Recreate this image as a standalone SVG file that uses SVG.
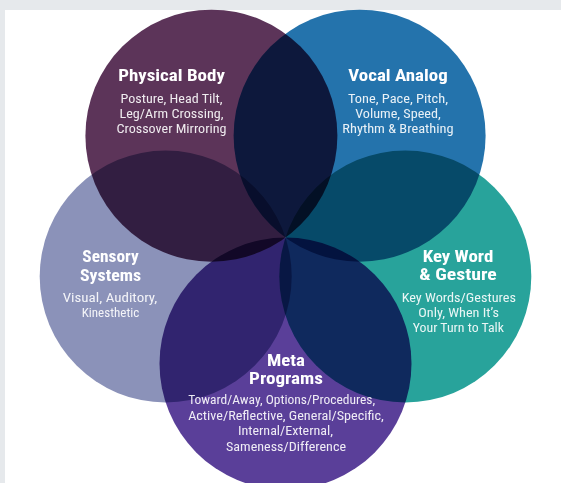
<svg xmlns="http://www.w3.org/2000/svg" width="561" height="483" viewBox="0 0 561 483">
  <style>
    .c { mix-blend-mode: multiply; }
    text { font-family: "Liberation Sans Narrow", "Roboto Condensed", "Liberation Sans", Arial, sans-serif; text-anchor: middle; }
    .h { font-size: 16.5px; font-weight: bold; fill: #ffffff; }
    .b { font-size: 13.2px; fill: #ffffff; fill-opacity: 0.9; }
  </style>
  <rect x="0" y="0" width="561" height="483" fill="#e6e9ec"/>
  <rect x="5" y="10" width="556" height="473" fill="#ffffff"/>

  <g id="node-physical-body">
    <circle class="c" cx="211.4" cy="135.7" r="126" fill="#5c3459"/>
    <text class="h" x="171.5" y="81" textLength="106.7" lengthAdjust="spacingAndGlyphs">Physical Body</text>
    <text class="b" x="171.5" y="102.7" textLength="102" lengthAdjust="spacingAndGlyphs">Posture, Head Tilt,</text>
    <text class="b" x="171.5" y="117.7" textLength="104" lengthAdjust="spacingAndGlyphs">Leg/Arm Crossing,</text>
    <text class="b" x="171.5" y="132.7" textLength="110" lengthAdjust="spacingAndGlyphs">Crossover Mirroring</text>
  </g>

  <g id="node-vocal-analog">
    <circle class="c" cx="359.6" cy="135.7" r="126" fill="#2473ac"/>
    <text class="h" x="398" y="81" textLength="99.4" lengthAdjust="spacingAndGlyphs">Vocal Analog</text>
    <text class="b" x="398" y="102.7" textLength="100" lengthAdjust="spacingAndGlyphs">Tone, Pace, Pitch,</text>
    <text class="b" x="398" y="117.7" textLength="85.7" lengthAdjust="spacingAndGlyphs">Volume, Speed,</text>
    <text class="b" x="398" y="132.7" textLength="111.3" lengthAdjust="spacingAndGlyphs">Rhythm &amp; Breathing</text>
  </g>

  <g id="node-sensory-systems">
    <circle class="c" cx="165.7" cy="276.5" r="126" fill="#8b92b9"/>
    <text class="h" x="110.5" y="261.7" textLength="56.3" lengthAdjust="spacingAndGlyphs">Sensory</text>
    <text class="h" x="110.5" y="280.7" textLength="61" lengthAdjust="spacingAndGlyphs">Systems</text>
    <text class="b" x="110" y="301.7" textLength="94.6" lengthAdjust="spacingAndGlyphs">Visual, Auditory,</text>
    <text class="b" x="110.5" y="316.7" textLength="57.6" lengthAdjust="spacingAndGlyphs">Kinesthetic</text>
  </g>

  <g id="node-key-word-gesture">
    <circle class="c" cx="405.3" cy="276.5" r="126" fill="#28a39b"/>
    <text class="h" x="458" y="262.3" textLength="70.6" lengthAdjust="spacingAndGlyphs">Key Word</text>
    <text class="h" x="458" y="280.2" textLength="77.4" lengthAdjust="spacingAndGlyphs">&amp; Gesture</text>
    <text class="b" x="458.8" y="302.3" textLength="114.3" lengthAdjust="spacingAndGlyphs">Key Words/Gestures</text>
    <text class="b" x="458.6" y="317" textLength="80.7" lengthAdjust="spacingAndGlyphs">Only, When It’s</text>
    <text class="b" x="458.4" y="331.8" textLength="91.3" lengthAdjust="spacingAndGlyphs">Your Turn to Talk</text>
  </g>

  <g id="node-meta-programs">
    <circle class="c" cx="285.5" cy="363.6" r="126" fill="#5a3f99"/>
    <text class="h" x="286" y="366.3" textLength="38" lengthAdjust="spacingAndGlyphs">Meta</text>
    <text class="h" x="286" y="383.6" textLength="74" lengthAdjust="spacingAndGlyphs">Programs</text>
    <text class="b" x="281.7" y="403.7" textLength="187" lengthAdjust="spacingAndGlyphs">Toward/Away, Options/Procedures,</text>
    <text class="b" x="286" y="419.5" textLength="195.7" lengthAdjust="spacingAndGlyphs">Active/Reflective, General/Specific,</text>
    <text class="b" x="285.5" y="435" textLength="95" lengthAdjust="spacingAndGlyphs">Internal/External,</text>
    <text class="b" x="286" y="450.5" textLength="120" lengthAdjust="spacingAndGlyphs">Sameness/Difference</text>
  </g>
</svg>
